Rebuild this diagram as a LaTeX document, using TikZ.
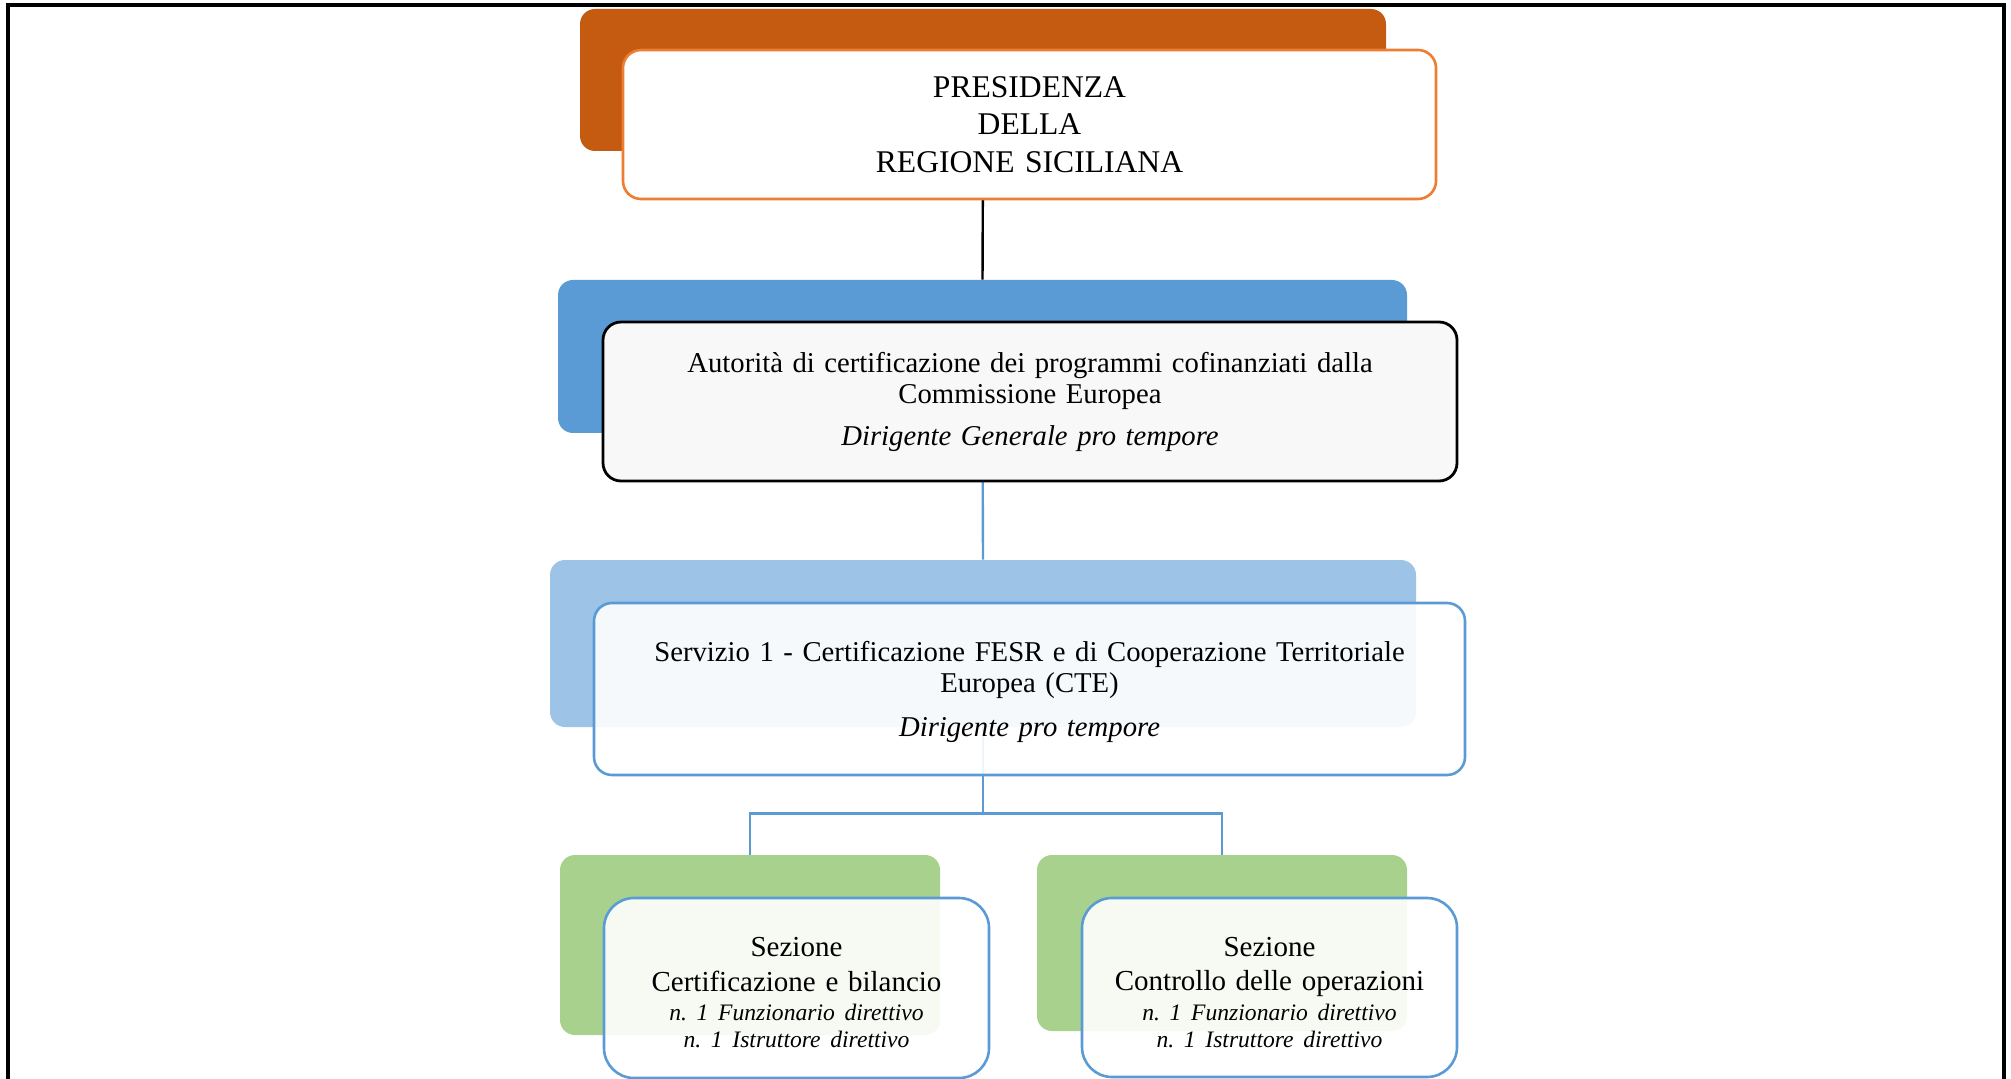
\documentclass[tikz,border=0pt]{standalone}
\usepackage{fontspec}
\setmainfont{Liberation Serif}
\frenchspacing
\definecolor{orangeback}{HTML}{C55A11}
\definecolor{orangeline}{HTML}{ED7D31}
\definecolor{blueback}{HTML}{5B9BD5}
\definecolor{lightblueback}{HTML}{9DC3E6}
\definecolor{greenback}{HTML}{A9D18E}
\definecolor{paleGray}{HTML}{F8F8F8}
\begin{document}
\begin{tikzpicture}[x=0.5pt,y=-0.5pt,
	back/.style={fill=#1,rounded corners=7.5pt,inner sep=0pt},
	front/.style={draw=#1,line width=1.3pt,rounded corners=9pt,align=center,inner sep=0pt},
	link/.style={line width=1.2pt,draw=blueback},
	mainfont/.style={font=\fontsize{14.35}{15.5}\selectfont}]
	\useasboundingbox (0,0) rectangle (2011,1079);
	\draw[line width=2pt] (8,1100) -- (8,5) -- (2004,5) -- (2004,1100);
	% back boxes
	\node[back=orangeback,minimum width=403pt,minimum height=71pt] (presB) at (983,80) {};
	\node[back=blueback,minimum width=424.5pt,minimum height=76.5pt] (autB) at (982.5,356.5) {};
	\node[back=lightblueback,minimum width=433pt,minimum height=83.5pt] (servB) at (983,643.5) {};
	\node[back=greenback,minimum width=190pt,minimum height=90pt] (certB) at (750,945) {};
	\node[back=greenback,minimum width=185pt,minimum height=88pt] (contrB) at (1222,943) {};
	% connectors
	\path (servB.south) ++(0,86) coordinate (split);
	\draw[line width=1.2pt] (presB.south) -- (autB.north);
	\draw[link] (autB.south) -- (servB.north);
	\draw[link] (servB.south) -- (split) (split) -| (certB.north) (split) -| (contrB.north);
	% front boxes
	\node[front=orangeline,fill=white,minimum width=406.5pt,minimum height=74.5pt,text width=380pt,
		font=\fontsize{15.8}{18.6}\selectfont] (presF) at (1029.5,124.5)
		{PRESIDENZA\\DELLA\\REGIONE SICILIANA};
	\node[front=black,fill=paleGray,line width=1.4pt,minimum width=427pt,minimum height=79.5pt,text width=400pt,mainfont] (autF) at (1030,401.5)
		{Autorità di certificazione dei programmi cofinanziati dalla\\Commissione Europea\\[5.5pt]\textit{Dirigente Generale pro tempore}};
	\node[front=blueback,fill=white,fill opacity=.9,text opacity=1,minimum width=435.5pt,minimum height=86pt,text width=410pt,mainfont] (servF) at (1029.5,689)
		{\rule{0pt}{13pt}Servizio 1 - Certificazione FESR e di Cooperazione Territoriale\\Europea (CTE)\\[6.5pt]\textit{Dirigente pro tempore}};
	\foreach \n/\x/\y/\w/\h/\t in {certF/796.5/988/192.5/90/Certificazione e bilancio,contrF/1269.5/987.5/187.5/89.5/Controllo delle operazioni}
		\node[front=blueback,rounded corners=15pt,fill=white,fill opacity=.9,text opacity=1,minimum width=\w pt,minimum height=\h pt,text width=180pt,
			font=\fontsize{14.5}{17.3}\selectfont] (\n) at (\x,\y)
			{\rule{0pt}{14.3pt}Sezione\\\t\\[-2.55pt]{\fontsize{11.8}{13.5}\selectfont\itshape n. 1 Funzionario direttivo}\\[-3.8pt]{\fontsize{11.8}{13.5}\selectfont\itshape n. 1 Istruttore direttivo}};
\end{tikzpicture}
\end{document}
